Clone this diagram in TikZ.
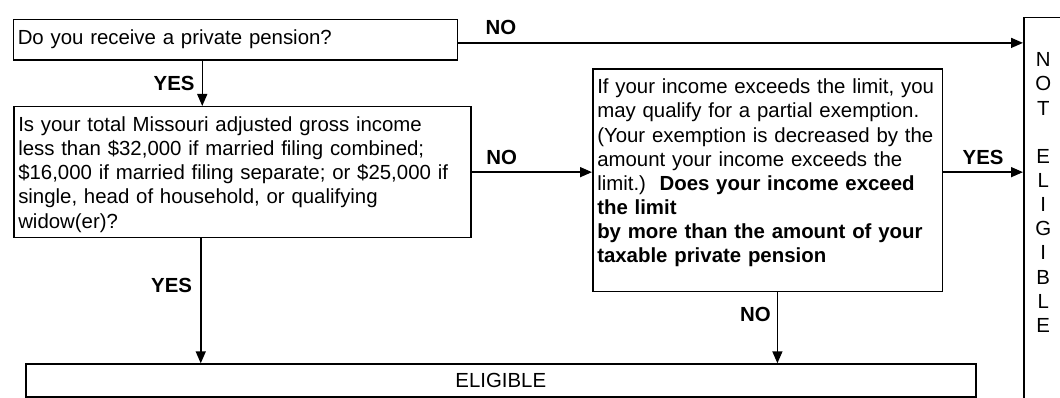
\documentclass[tikz,border=0pt]{standalone}
\usepackage{fontspec}
\setmainfont{Liberation Sans}
\usepackage{tikz}
\usetikzlibrary{positioning,arrows.meta,calc}

\newcommand{\chartfont}{\fontsize{20.4}{24.15}\selectfont}

\begin{document}
\begin{tikzpicture}[
  x=1pt,y=-1pt,
  qbox/.style={rectangle,draw,line width=1.5pt,anchor=north west,align=left,inner xsep=4.5pt,inner ysep=10pt,text height=14.8pt,font=\chartfont},
  endbox/.style={qbox,align=center},
  arrow/.style={-{Triangle[length=12pt,width=10pt]},line width=1.5pt},
  anslabel/.style={font=\chartfont\bfseries,inner sep=3pt},
]
\useasboundingbox (0,0) rectangle (1060,398);

% === QUESTIONS ===
\node[qbox,text width=435pt,text depth=5.5pt] (pension) at (12.5,19) {Do you receive a private pension?};

\node[qbox,text width=448pt,text depth=96pt] (agi) at (13,106) {
Is your total Missouri adjusted gross income\\
less than \$32,000 if married filing combined;\\
\$16,000 if married filing separate; or \$25,000 if\\
single, head of household, or qualifying\\
widow(er)?
};

\node[qbox,text width=340.7pt,text depth=187.4pt] (partial) at (592,68.3) {
If your income exceeds the limit, you\\
may qualify for a partial exemption.\\
(Your exemption is decreased by the\\
amount your income exceeds the\\
limit.)\ \ \textbf{Does your income exceed}\\
\textbf{the limit}\\
\textbf{by more than the amount of your}\\
\textbf{taxable private pension}
};

% === OUTCOMES ===
\node[endbox,text width=941pt,inner ysep=9pt,text depth=0pt] (eligible) at (25,363.3) {ELIGIBLE};

% runs off the right and bottom edge
\node[endbox,text width=30pt,text height=39pt,text depth=330pt] (noteligible) at (1023,17) {
N\\O\\T\\[\baselineskip]E\\L\\I\\G\\I\\B\\L\\E
};

% === ANSWERS ===
\draw[arrow] ([yshift=-3pt]pension.east) -- ([yshift=-3pt]pension.east -| noteligible.west) node[anslabel,pos=0.076,above=4pt] {NO};
\draw[arrow] ([xshift=-33pt]pension.south) -- ([xshift=-33pt]pension.south |- agi.north) node[anslabel,midway,left=4pt] {YES};

\draw[arrow] (agi.east) -- (agi.east -| partial.west) node[anslabel,pos=0.25,above=4pt] {NO};
\draw[arrow] ([xshift=-41.5pt]agi.south) -- ([xshift=-41.5pt]agi.south |- eligible.north) node[anslabel,pos=0.38,left=5pt] {YES};

\draw[arrow] (partial.east |- agi.east) -- (agi.east -| noteligible.west) node[anslabel,midway,above=4pt] {YES};
\draw[arrow] ([xshift=9.8pt]partial.south) -- ([xshift=9.8pt]partial.south |- eligible.north) node[anslabel,pos=0.31,left=3pt] {NO};

\end{tikzpicture}
\end{document}
